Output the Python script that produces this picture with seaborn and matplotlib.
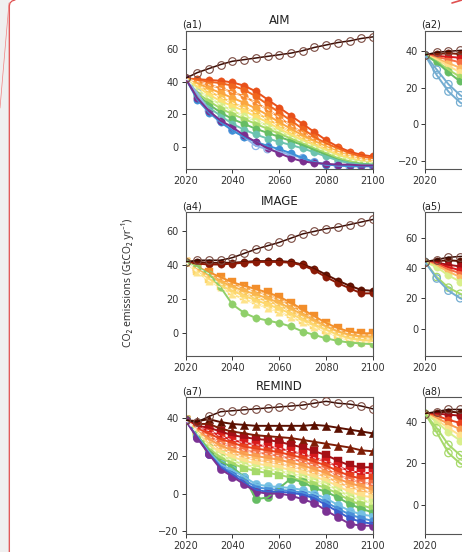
import numpy as np
import pandas as pd
import seaborn as sns
import matplotlib.pyplot as plt
from matplotlib.patches import Rectangle
from matplotlib.lines import Line2D

# ---- data (GtCO2/yr) ----
years = list(range(2020, 2101, 5))
years_short = [2020, 2025, 2030, 2035, 2040]

# (a1) AIM
aim_base = [42, 45.5, 48, 50.5, 52.5, 53.5, 54.5, 55.5, 56.5, 57.5, 59, 61, 62.5, 64, 65, 66.5, 67.5]
aim_1 = [42, 41.5, 41, 40.5, 39.5, 37.5, 34, 29, 24, 19, 14, 9, 4, 0, -3, -5, -6]
aim_2 = [42, 41, 40, 39, 37.5, 35, 31, 26, 21, 16, 11, 6, 2, -1, -4, -6, -7]
aim_3 = [42, 40, 38, 36, 33.5, 31, 27, 23, 18, 13, 8.5, 4.5, 1, -2, -5, -7, -8]
aim_4 = [42, 39, 36, 33, 30, 27, 23.5, 19.5, 15, 11, 7, 3.5, 0.5, -2.5, -5.5, -7.5, -9]
aim_5 = [42, 38, 34, 30.5, 27, 24, 21, 17, 13, 9, 5.5, 2.5, -0.5, -3.5, -6, -8, -9]
aim_6 = [42, 37, 32, 28, 25, 22, 18.5, 15, 11, 7.5, 4, 1, -2, -5, -7, -9, -10]
aim_7 = [42, 35, 30, 26, 22, 19, 16, 13, 9.5, 6, 3, 0, -3, -6, -8, -9.5, -10]
aim_8 = [42, 33, 28, 23.5, 20, 17, 14, 11, 8, 5, 2, -1, -4, -7, -9, -10, -10.5]
aim_9 = [42, 32, 26, 21, 17, 14, 11, 8.5, 6, 3.5, 1, -2, -5, -8, -10, -10.5, -11]
aim_10 = [42, 31, 24, 19, 14, 10.5, 7.5, 5, 3, 1, -1, -3.5, -6, -8.5, -10, -11, -11]
aim_11 = [42, 33, 22, 16, 10, 6, 0.5, -1.5, -3, -5, -7, -9.5, -11, -11.5, -12, -12, -12]
aim_12 = [42, 29, 21, 15, 10, 6, 3, 0.5, -1.5, -4, -7, -9.5, -11, -11.5, -12, -12, -12]
aim_13 = [42, 30, 22, 16, 12, 7, 3, -1, -4, -7, -9, -10, -10.5, -11, -11, -11.5, -11.5]

# (a4) IMAGE
image_base = [42, 43, 43, 43, 44.5, 47, 49.5, 51.5, 53.5, 56, 58.5, 60, 61.5, 62.5, 64, 65.5, 67]
image_1 = [42, 42, 41.5, 41.5, 41.5, 42, 42.5, 42.5, 42.5, 42, 40.5, 38, 34.5, 31, 28, 25.5, 25]
image_2 = [42, 41, 40.5, 40.5, 41, 41.5, 42, 42, 42, 41.5, 40, 37, 33, 29.5, 26.5, 23.5, 23.5]
image_3 = [42, 39, 36, 33, 30, 28, 26, 24, 21.5, 18, 14, 10, 6, 3, 1, 0, 0]
image_4 = [42, 38.5, 35, 32, 29, 27, 25, 22.5, 20, 16.5, 12.5, 9, 5, 2, 0, -1, -1]
image_5 = [42, 38, 34, 30.5, 27.5, 25, 23, 20.5, 18, 14.5, 11, 7.5, 4, 1, -1, -2, -2]
image_6 = [42, 37, 33, 29, 26, 23.5, 21, 19, 16.5, 13, 9.5, 6, 3, 0, -2, -3, -3.5]
image_7 = [42, 36.5, 32, 28, 25, 22, 19.5, 17, 14.5, 11.5, 8, 5, 2, -1, -3, -4, -4.5]
image_8 = [42, 36, 31, 27, 23, 20, 17.5, 15, 12.5, 9.5, 6.5, 3.5, 1, -2, -4, -5, -5.5]
image_9 = [42, 39, 35, 27, 17, 12, 9, 7.5, 6, 4, 1, -1, -3, -4.5, -5.5, -6, -6.5]

# (a7) REMIND
remind_base = [39, 38, 41, 43.5, 44, 44.5, 45, 45.5, 46, 46.5, 47, 48, 49, 48, 47.5, 46.5, 45]
remind_1 = [39, 38.5, 39.5, 38, 37, 36.5, 36, 36, 36, 36, 36, 36.5, 36, 35, 34, 33, 32]
remind_2 = [39, 37, 37, 34.5, 33, 32, 31, 30.5, 30, 29.5, 28.5, 27.5, 26.5, 25.5, 24.5, 23, 22.5]
remind_3 = [39, 36, 35, 33, 31, 30, 29, 28.5, 27.5, 26, 24.5, 22.5, 20.5, 17.5, 15, 14, 14]
remind_4 = [39, 35, 33.5, 30.5, 28.5, 27, 26, 25, 24, 22.5, 21, 19, 17, 14.5, 12, 11, 11]
remind_5 = [39, 34.5, 32, 29, 27, 25, 24, 23, 22, 20.5, 19, 17, 15, 12, 9.5, 8, 8.5]
remind_6 = [39, 34, 30.5, 27, 25, 23, 22, 21, 20, 18.5, 17, 15, 13, 10, 7.5, 6, 5]
remind_7 = [39, 33.5, 29, 25.5, 23, 21, 20, 19, 18, 16.5, 15, 13, 11, 8, 5.5, 4, 2]
remind_8 = [39, 33, 27.5, 24, 21.5, 19.5, 18, 17, 16, 14.5, 13, 11, 9, 6, 3.5, 2, 0]
remind_9 = [39, 32.5, 26, 22, 19.5, 17.5, 16, 15, 14, 12.5, 11, 9, 7, 4, 1, -1, -2]
remind_10 = [39, 32, 25, 20.5, 17.5, 15.5, 14, 13, 12, 10.5, 9, 7, 5, 2, -1.5, -3.5, -5]
remind_11 = [39, 31.5, 24, 19, 16, 13.5, 12, 11, 10, 8.5, 7, 5, 3, 0, -3.5, -6, -8]
remind_12 = [39, 31, 23, 17, 14, 9, -3, -2, 3, 8, 6, 3, 1, -2, -5.5, -8, -10]
remind_13 = [39, 30.5, 22, 15.5, 12.5, 9, 5, 4, 3.5, 3, 2, 0, -2.5, -6, -9, -11, -12]
remind_14 = [39, 30, 21.5, 14.5, 11, 7.5, 3.5, 2.5, 2, 1.5, 0.5, -1.5, -4.5, -8, -11, -13, -14.5]
remind_15 = [39, 30, 21, 14, 10, 6, 2, 1, 1, 0.5, -0.5, -2.5, -6, -9.5, -13, -15, -16]
remind_16 = [39, 29.5, 21, 13, 9, 5, 1, 0, 0, -1, -3, -5, -9, -12.5, -16, -17, -17]

# (a2) second column, only the first years are in the picture
a2_base = [38, 39.5, 40, 40.5, 41]
a2_1 = [38, 38.5, 39, 38.5, 38]
a2_2 = [38, 37.5, 37, 36.5, 36]
a2_3 = [38, 37, 35.5, 34, 32.5]
a2_4 = [38, 36, 33.5, 31, 28.5]
a2_5 = [38, 35.5, 32, 28.5, 25]
a2_6 = [38, 34.5, 30, 26, 22]
a2_7 = [38, 34, 28.5, 23.5, 19]
a2_8 = [38, 30, 22, 16, 12]
a2_9 = [38, 27, 18, 12, 8]

# (a5)
a5_base = [44, 45.5, 47, 47.5, 48]
a5_1 = [44, 44.5, 45, 44.5, 44]
a5_2 = [44, 43.5, 42, 41, 40]
a5_3 = [44, 43, 40.5, 38.5, 37]
a5_4 = [44, 42.5, 39, 36.5, 34]
a5_5 = [44, 41.5, 37.5, 34, 31]
a5_6 = [44, 40.5, 35, 31, 27.5]
a5_7 = [44, 34, 27, 23, 20]
a5_8 = [44, 33, 25, 20, 17]

# (a8)
a8_base = [44, 45, 46, 46, 46]
a8_1 = [44, 44.5, 45, 44.5, 44]
a8_2 = [44, 44, 43.5, 43, 42.5]
a8_3 = [44, 43, 41, 39.5, 38]
a8_4 = [44, 42, 39, 36.5, 34]
a8_5 = [44, 41, 37, 33.5, 30]
a8_6 = [44, 40, 35, 31, 27]
a8_7 = [44, 37, 29, 24, 20]
a8_8 = [44, 35, 25, 20, 17]

# ---- styles ----
sns.set_style('ticks')
plt.rcParams['font.family'] = ['DejaVu Sans']

W, H = 462, 552
fig = plt.figure(figsize=(W / 100, H / 100), dpi=100)
fig.patch.set_facecolor('white')


def fx(px):
    return px / W


def fy(py):
    return 1 - py / H


def draw_panel(ax, yrs, base, runs, colors, markers, dashed, msize=28):
    rows = []
    for i, r in enumerate(runs):
        for y, v in zip(yrs, r):
            rows.append((y, v, i))
    df = pd.DataFrame(rows, columns=['year', 'co2', 'run'])

    # model points first, emulator lines on top
    for i, mk in enumerate(markers):
        sub = df[df.run == i]
        if mk == 'open':
            sns.scatterplot(data=sub, x='year', y='co2', ax=ax, marker='o', s=msize,
                            facecolor='none', edgecolor=colors[i], linewidth=0.9, zorder=2)
        else:
            sns.scatterplot(data=sub, x='year', y='co2', ax=ax, marker=mk, s=msize,
                            color=colors[i], edgecolor=colors[i], linewidth=0.3, zorder=2)
    sns.lineplot(data=df, x='year', y='co2', hue='run', palette=dict(enumerate(colors)),
                 legend=False, lw=1.4, estimator=None, ax=ax, zorder=3)
    for i in dashed:
        sns.lineplot(x=yrs, y=runs[i], color='white', lw=0.7, ax=ax, zorder=4,
                     linestyle=(0, (3, 3)), alpha=0.85)

    sns.lineplot(x=yrs, y=base, color='#3a0c04', lw=1.1, ax=ax, zorder=5, marker='o',
                 markersize=5.5, markerfacecolor='none', markeredgecolor='#7a4a40',
                 markeredgewidth=0.8)


def style_axes(ax, ylim, yticks, label, title=None, xticks=(2020, 2040, 2060, 2080, 2100)):
    ax.set_xlim(2020, 2100)
    ax.set_ylim(*ylim)
    ax.set_xticks(list(xticks))
    ax.set_yticks(yticks)
    ax.set_xlabel('')
    ax.set_ylabel('')
    ax.tick_params(labelsize=7, length=3, width=0.7, colors='#333', pad=2)
    for s in ax.spines.values():
        s.set_visible(True)
        s.set_color('#555')
        s.set_linewidth(0.8)
    ax.text(-0.02, 1.005, label, transform=ax.transAxes, ha='left', va='bottom',
            fontsize=7, color='#222')
    if title:
        ax.set_title(title, fontsize=8.5, pad=5, color='#222')
    ax.set_facecolor('white')


rainbow = ['#5b0f00', '#7f1d06', '#a50f15', '#d7191c', '#e8411e', '#f46d43', '#f99c50',
           '#fdb863', '#fee08b', '#d9ef8b', '#a6d96a', '#66bd63', '#74c0e3', '#4a90d9',
           '#3a5fcd', '#7b3294']

rows_px = [(30.5, 169), (212, 356), (397, 534)]
col_left = [185.5, 425]
ax_w = 187.5


def make_ax(r, c):
    top, bot = rows_px[r]
    return fig.add_axes([fx(col_left[c]), fy(bot), fx(ax_w), (bot - top) / H])


# (a1) AIM
ax = make_ax(0, 0)
aim_runs = [aim_1, aim_2, aim_3, aim_4, aim_5, aim_6, aim_7, aim_8, aim_9, aim_10,
            aim_11, aim_12, aim_13]
aim_cols = ['#e8501a', '#f0661e', '#f88a30', '#fba640', '#fcc350', '#fde070', '#d9ef8b',
            '#a6d96a', '#66bd63', '#6cc3b0', '#8fb3e8', '#3d8fd6', '#7b2f8f']
aim_mk = ['o'] * 10 + ['open', 'o', 'o']
draw_panel(ax, years, aim_base, aim_runs, aim_cols, aim_mk, [2, 4, 6])
style_axes(ax, (-13.7, 71.4), [0, 20, 40, 60], '(a1)', 'AIM')

# (a4) IMAGE
ax = make_ax(1, 0)
image_runs = [image_1, image_2, image_3, image_4, image_5, image_6, image_7, image_8, image_9]
image_cols = ['#5b0f00', '#8b1a06', '#f28e2b', '#f6a03c', '#f9b44d', '#fbc75e', '#fdd76e',
              '#fee38a', '#8fcf6a']
image_mk = ['o', 'o', 's', '^', 's', '^', 's', '^', 'o']
draw_panel(ax, years, image_base, image_runs, image_cols, image_mk, [3, 5, 7])
style_axes(ax, (-13.4, 71.4), [0, 20, 40, 60], '(a4)', 'IMAGE')

# (a7) REMIND
ax = make_ax(2, 0)
remind_runs = [remind_1, remind_2, remind_3, remind_4, remind_5, remind_6, remind_7,
               remind_8, remind_9, remind_10, remind_11, remind_12, remind_13, remind_14,
               remind_15, remind_16]
remind_mk = ['^', '^'] + ['s'] * 9 + ['o'] * 5
draw_panel(ax, years, remind_base, remind_runs, rainbow, remind_mk, [3, 5, 7, 9], msize=36)
style_axes(ax, (-21.4, 51.3), [-20, 0, 20, 40], '(a7)', 'REMIND')

# (a2)
ax = make_ax(0, 1)
draw_panel(ax, years_short, a2_base, [a2_1, a2_2, a2_3, a2_4, a2_5, a2_6, a2_7, a2_8, a2_9],
           ['#7f1d06', '#d7191c', '#f46d43', '#fdb863', '#fee08b', '#a6d96a', '#66bd63',
            '#74add1', '#74add1'],
           ['o', 'o', 'o', 'o', 'o', 'o', 'o', 'open', 'open'], [])
style_axes(ax, (-24.4, 51.4), [-20, 0, 20, 40], '(a2)', xticks=[2020])

# (a5)
ax = make_ax(1, 1)
draw_panel(ax, years_short, a5_base, [a5_1, a5_2, a5_3, a5_4, a5_5, a5_6, a5_7, a5_8],
           ['#5b0f00', '#a50f15', '#d7191c', '#f46d43', '#fdb863', '#d9ef8b', '#a6d96a',
            '#74add1'],
           ['o', 'o', 'o', 'o', 'o', 'o', 'open', 'open'], [])
style_axes(ax, (-18, 76.8), [0, 20, 40, 60], '(a5)', xticks=[2020])

# (a8)
ax = make_ax(2, 1)
draw_panel(ax, years_short, a8_base, [a8_1, a8_2, a8_3, a8_4, a8_5, a8_6, a8_7, a8_8],
           ['#5b0f00', '#a50f15', '#e8411e', '#f99c50', '#fee08b', '#d9ef8b', '#a6d96a',
            '#a6d96a'],
           ['o', 'o', 'o', 'o', 'o', 'o', 'open', 'open'], [])
style_axes(ax, (-14, 52), [0, 20, 40], '(a8)', xticks=[2020])

# shared y label
fig.text(fx(128), fy(283), 'CO₂ emissions (GtCO₂ yr⁻¹)', rotation=90, ha='center',
         va='center', fontsize=7.5, color='#333', family=['Noto Sans', 'DejaVu Sans'])

# page frame around the figure (screenshot edge)
fig.add_artist(Rectangle((0, 0), fx(9.3), 1, transform=fig.transFigure,
                         color='#f0f0f0', zorder=0))
fig.add_artist(Line2D([fx(9.3), fx(9.3), fx(10), fx(12), fx(15)],
                      [0, fy(6), fy(3), fy(1), fy(0)], color='#e05050', lw=0.9))
fig.add_artist(Line2D([fx(9), fx(0)], [fy(3), fy(108)], color='#f08080', lw=0.5))
fig.add_artist(Line2D([fx(452), fx(462)], [fy(3), fy(0)], color='#e05050', lw=1.2))

fig.savefig('out.png', dpi=100)
